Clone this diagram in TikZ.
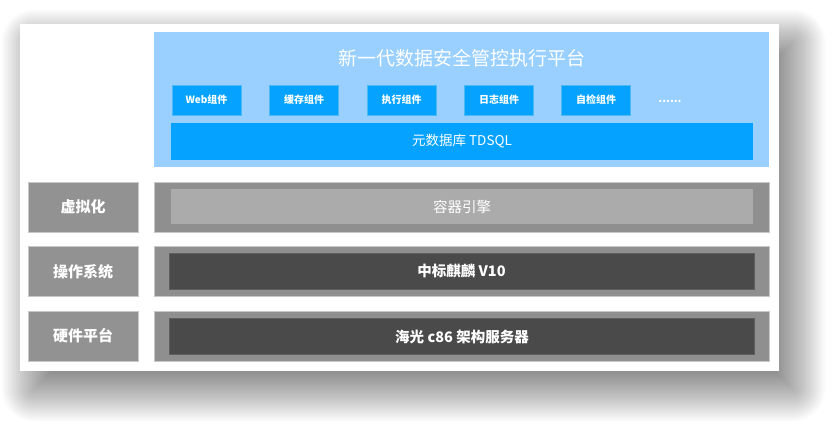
\documentclass[tikz,border=0pt]{standalone}
\usepackage{fontspec}
\setmainfont{Noto Sans CJK SC}
\definecolor{lblue}{HTML}{99D0FF}
\definecolor{bblue}{HTML}{05A3FF}
\definecolor{bbord}{HTML}{4DB9F5}
\definecolor{ogray}{HTML}{8F8F8F}
\definecolor{lgray}{HTML}{929292}
\definecolor{gbord}{HTML}{C8C8C8}
\definecolor{vgray}{HTML}{ABABAB}
\definecolor{dgray}{HTML}{4A4A4A}
\definecolor{dbord}{HTML}{5E5E5E}
\tikzset{
  card/.style={fill=white, draw=none, minimum width=759pt, minimum height=347pt, inner sep=0pt},
  panel/.style={fill=lblue, draw=none, minimum width=615pt, minimum height=135pt},
  comp/.style={fill=bblue, draw=bbord, line width=0.6pt, minimum width=69pt, minimum height=30pt,
    text=white, font=\fontsize{10}{12}\selectfont\bfseries, inner sep=0pt},
  dbbar/.style={fill=bblue, draw=none, minimum width=582pt, minimum height=37pt,
    text=white, font=\fontsize{13.5}{16}\selectfont, inner sep=0pt},
  lab/.style={fill=lgray, draw=gbord, line width=0.6pt, minimum width=110pt, minimum height=50pt,
    text=white, font=\fontsize{15}{18}\selectfont\bfseries, inner sep=0pt},
  outer/.style={fill=ogray, draw=gbord, line width=0.6pt, minimum width=615pt, minimum height=50pt, inner sep=0pt},
  vbar/.style={fill=vgray, draw=none, minimum width=582pt, minimum height=35pt,
    text=white, font=\fontsize{14.5}{17}\selectfont, inner sep=0pt},
  dbar/.style={fill=dgray, draw=dbord, line width=0.6pt, minimum width=585pt, minimum height=36pt,
    text=white, font=\fontsize{14.5}{17}\selectfont\bfseries, inner sep=0pt},
  ttl/.style={text=white, font=\fontsize{19}{22}\selectfont, inner sep=0pt},
}
\begin{document}
\begin{tikzpicture}[x=1pt,y=-1pt]
\useasboundingbox (0,0) rectangle (834,426);
\fill[white] (0,0) rectangle (834,426);
% soft drop shadow of the card
\foreach \k in {0,...,31}{
  \pgfmathsetmacro\r{32-2*\k}
  \pgfmathsetmacro\rc{max(\r,1)}
  \fill[black, opacity=0.021, rounded corners=\rc pt]
    (34-\r,42-\r) rectangle (793+\r,389+\r);
}
\node[card] (card) at (399.5,197.5) {};
% top platform
\node[panel] (panel) at (461.5,99.5) {};
\node[ttl] (title) at (461.5,58) {新一代数据安全管控执行平台};
\node[comp] (web) at (206.5,100) {Web组件};
\node[comp] (cache) at (304,100) {缓存组件};
\node[comp] (exec) at (401.5,100) {执行组件};
\node[comp] (log) at (499,100) {日志组件};
\node[comp] (check) at (596,100) {自检组件};
\node[text=white, font=\fontsize{11}{12}\selectfont\bfseries, inner sep=0pt] (more) at (670,101) {......};
\node[dbbar] (tdsql) at (462,141.5) {元数据库 TDSQL};
% layers
\node[lab] (virt) at (83,207) {虚拟化};
\node[outer] (virtbg) at (461.5,207) {};
\node[vbar] (container) at (462,206.5) {容器引擎};
\node[lab] (os) at (83,271.5) {操作系统};
\node[outer] (osbg) at (461.5,271.5) {};
\node[dbar] (kylin) at (461.5,271) {中标麒麟 V10};
\node[lab] (hw) at (83,336) {硬件平台};
\node[outer] (hwbg) at (461.5,336) {};
\node[dbar] (server) at (462,336.5) {海光 c86 架构服务器};
\end{tikzpicture}
\end{document}
